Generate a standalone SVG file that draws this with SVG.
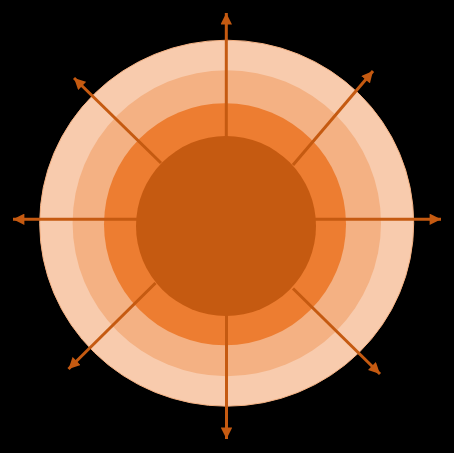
<svg xmlns="http://www.w3.org/2000/svg" width="454" height="453" viewBox="0 0 454 453">
<style>
.ring1{fill:#f8cbad;stroke:#f4b183;stroke-width:1}
.ring2{fill:#f4b183}
.ring3{fill:#ed7d31}
.core{fill:#c55a11}
.conn{stroke:#c55a11;stroke-width:3;fill:none;marker-end:url(#ah)}
</style>
<defs>
<marker id="ah" viewBox="0 0 10 10" refX="10" refY="5" markerWidth="4" markerHeight="3.8" markerUnits="strokeWidth" orient="auto">
<path d="M0,0 L10,5 L0,10 Z" fill="#c55a11"/>
</marker>
</defs>
<rect width="454" height="453" fill="#000"/>
<g id="ring-outer"><ellipse class="ring1" cx="226.7" cy="223.2" rx="187" ry="183"/></g>
<g id="ring-second"><ellipse class="ring2" cx="226.8" cy="223.2" rx="154.2" ry="153"/></g>
<g id="ring-third"><ellipse class="ring3" cx="225" cy="224.3" rx="121" ry="121"/></g>
<g id="core"><circle class="core" cx="226" cy="226" r="90"/></g>
<g id="connectors">
<line class="conn" x1="226.3" y1="137" x2="226.3" y2="13"/>
<line class="conn" x1="226.5" y1="315" x2="226.5" y2="439"/>
<line class="conn" x1="137" y1="219.3" x2="13" y2="219.3"/>
<line class="conn" x1="315" y1="219.3" x2="441" y2="219.3"/>
<line class="conn" x1="161" y1="163" x2="74" y2="78"/>
<line class="conn" x1="293" y1="165" x2="373" y2="71"/>
<line class="conn" x1="155.5" y1="283" x2="68.5" y2="369"/>
<line class="conn" x1="293" y1="288.5" x2="380" y2="374"/>
</g>
</svg>
